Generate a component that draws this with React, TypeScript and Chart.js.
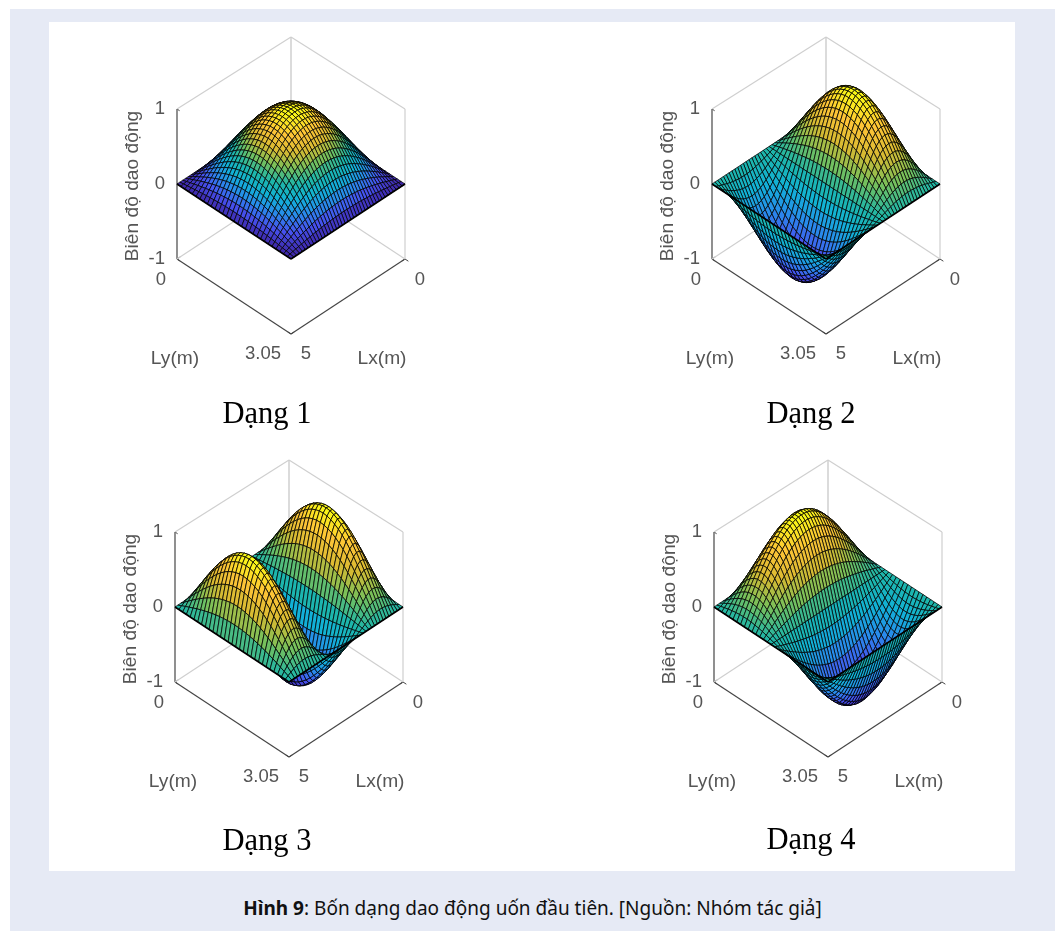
import React, { useEffect, useRef } from "react";
import { Chart, registerables } from "chart.js";

Chart.register(...registerables);

// Lengths of the plate (metres)
const LX = 5;
const LY = 3.05;
// Modal profiles read along the Ly axis (31 stations)
const lyHalf = [0, .105, .208, .309, .407, .5, .588, .669, .743, .809, .866, .914, .951, .978, .995, 1, .995, .978, .951, .914, .866, .809, .743, .669, .588, .5, .407, .309, .208, .105, 0];
const lyFull = [0, .208, .407, .588, .743, .866, .951, .995, .995, .951, .866, .743, .588, .407, .208, 0, -.208, -.407, -.588, -.743, -.866, -.951, -.995, -.995, -.951, -.866, -.743, -.588, -.407, -.208, 0];
// Modal profiles read along the Lx axis (41 stations)
const lxHalf = [0, .078, .156, .233, .309, .383, .454, .522, .588, .649, .707, .76, .809, .853, .891, .924, .951, .972, .988, .997, 1, .997, .988, .972, .951, .924, .891, .853, .809, .76, .707, .649, .588, .522, .454, .383, .309, .233, .156, .078, 0];
const lxFull = [0, .156, .309, .454, .588, .707, .809, .891, .951, .988, 1, .988, .951, .891, .809, .707, .588, .454, .309, .156, 0, -.156, -.309, -.454, -.588, -.707, -.809, -.891, -.951, -.988, -1, -.988, -.951, -.891, -.809, -.707, -.588, -.454, -.309, -.156, 0];
const lxThree = [0, .233, .454, .649, .809, .924, .988, .998, .951, .853, .707, .522, .309, .078, -.156, -.383, -.588, -.76, -.891, -.972, -1, -.972, -.891, -.76, -.588, -.383, -.156, .078, .309, .522, .707, .853, .951, .998, .988, .924, .809, .649, .454, .233, 0];

const zTicks = ["1", "0", "-1"];
const lyTicks = ["0", "3.05"];
const lxTicks = ["0", "5"];
const zTitle = "Biên độ dao động";
const lyTitle = "Ly(m)";
const lxTitle = "Lx(m)";
const captionBold = "Hình 9";
const captionRest = ": Bốn dạng dao động uốn đầu tiên. [Nguồn: Nhóm tác giả]";

const parula = [
  [62, 38, 168], [70, 82, 240], [40, 140, 235], [17, 178, 214], [30, 182, 168],
  [120, 192, 90], [215, 186, 50], [254, 196, 55], [249, 251, 21],
];

const panels = [
  { name: "Dạng 1", ly: lyHalf, lx: lxHalf, cx: 291, dy: 0, nameDx: -24, nameY: 415 },
  { name: "Dạng 2", ly: lyHalf, lx: lxFull, cx: 826, dy: 0, nameDx: -15, nameY: 415 },
  { name: "Dạng 3", ly: lyHalf, lx: lxThree, cx: 289, dy: 423, nameDx: -22, nameY: 419 },
  { name: "Dạng 4", ly: lyFull, lx: lxHalf, cx: 828, dy: 423, nameDx: -17, nameY: 418 },
];

const HALF_W = 114;
const UNIT_H = 75;
const project = (lx: number, ly: number, z: number) => {
  const a = ly / LY;
  const b = lx / LX;
  return { x: HALF_W * (a - b), y: UNIT_H * (1 - a - b) + UNIT_H * z };
};

const colour = (t: number) => {
  const p = Math.max(0, Math.min(1, t)) * (parula.length - 1);
  const i = Math.min(parula.length - 2, Math.floor(p));
  const f = p - i;
  const c = parula[i].map((v, k) => Math.round(v + (parula[i + 1][k] - v) * f));
  return `rgb(${c[0]},${c[1]},${c[2]})`;
};

const line = (pts: number[][], color: string, width: number) => ({
  data: pts.map(([lx, ly, z]) => project(lx, ly, z)),
  borderColor: color,
  borderWidth: width,
  fill: false,
  pointRadius: 0,
});

function buildDatasets(p: typeof panels[number]) {
  const zs: number[][] = p.ly.map((u) => p.lx.map((v) => u * v));
  const all = zs.flat();
  const lo = Math.min(...all);
  const hi = Math.max(...all);
  const quads: any[] = [];
  const ni = p.ly.length - 1;
  const nj = p.lx.length - 1;
  for (let i = 0; i < ni; i++) {
    for (let j = 0; j < nj; j++) {
      const ly0 = (LY * i) / ni, ly1 = (LY * (i + 1)) / ni;
      const lx0 = (LX * j) / nj, lx1 = (LX * (j + 1)) / nj;
      const mean = (zs[i][j] + zs[i + 1][j] + zs[i][j + 1] + zs[i + 1][j + 1]) / 4;
      quads.push({
        data: [
          project(lx0, ly0, zs[i][j]),
          project(lx1, ly0, zs[i][j + 1]),
          project(lx1, ly1, zs[i + 1][j + 1]),
          project(lx0, ly1, zs[i + 1][j]),
          project(lx0, ly0, zs[i][j]),
        ],
        borderColor: "rgba(0,0,0,0.8)",
        borderWidth: 0.95,
        backgroundColor: colour((mean - lo) / (hi - lo)),
        fill: "shape",
        pointRadius: 0,
      });
    }
  }
  const back = "#cfcfcf";
  const dark = "#454545";
  const top = 0.96;
  const box = [
    line([[0, 0, -1], [0, 0, top]], back, 1.5),
    line([[0, 0, top], [LX, 0, 1]], back, 1.2),
    line([[0, 0, top], [0, LY, 1]], back, 1.2),
    line([[0, 0, -1], [LX, 0, -1]], back, 1.2),
    line([[0, 0, -1], [0, LY, -1]], back, 1.2),
    line([[0, LY, -1], [0, LY, 1]], back, 1.2),
    line([[LX, 0, -1], [LX, 0, 1]], dark, 1.2),
    line([[LX, 0, -1], [LX, LY, -1]], dark, 1.2),
    line([[0, LY, -1], [LX, LY, -1]], dark, 1.2),
    line([[LX, 0, 1], [LX, 0.07, 1]], dark, 1),
    line([[LX, 0, 0], [LX, 0.07, 0]], dark, 1),
    line([[LX, 0, -1], [LX, 0.07, -1]], dark, 1),
    line([[LX, 0, -1], [LX - 0.15, 0, -1]], dark, 1),
    line([[LX, LY, -1], [LX - 0.15, LY, -1]], dark, 1),
    line([[LX, LY, -1], [LX, LY - 0.09, -1]], dark, 1),
    line([[0, LY, -1], [0, LY + 0.09, -1]], dark, 1),
    line([[0, LY, -1], [0.15, LY, -1]], dark, 1),
  ];
  const frontEdges = [
    line([[LX, 0, 0], [LX, LY, 0]], "#000", 1.6),
    line([[0, LY, 0], [LX, LY, 0]], "#000", 1.6),
  ];
  return [...frontEdges, ...quads.reverse(), ...box];
}

const labelPlugin = (p: typeof panels[number]) => ({
  id: "axisText",
  afterDraw(chart: any) {
    const { ctx, scales } = chart;
    const put = (text: string, x: number, y: number, font: string, color: string, align: CanvasTextAlign = "center", rot = 0) => {
      ctx.save();
      ctx.translate(scales.x.getPixelForValue(x), scales.y.getPixelForValue(184 - y));
      ctx.rotate(rot);
      ctx.font = font;
      ctx.fillStyle = color;
      ctx.textAlign = align;
      ctx.textBaseline = "middle";
      ctx.fillText(text, 0, 0);
      ctx.restore();
    };
    const f = '18.5px "Liberation Sans"';
    const t = '19.2px "Liberation Sans"';
    const c = "#555555";
    put(zTicks[0], -126, 109, f, c, "right");
    put(zTicks[1], -126, 184, f, c, "right");
    put(zTicks[2], -126, 259, f, c, "right");
    put(lyTicks[0], -130, 280, f, c);
    put(lyTicks[1], -28, 354, f, c);
    put(lxTicks[1], 15, 354, f, c);
    put(lxTicks[0], 129, 280, f, c);
    put(lyTitle, -116, 359, t, c);
    put(lxTitle, 91, 359, t, c);
    put(zTitle, -158, 186, t, c, "center", -Math.PI / 2);
    put(p.name, p.nameDx, p.nameY, '30.5px "Liberation Serif"', "#000");
  },
});

function Panel({ p }: { p: typeof panels[number] }) {
  const ref = useRef<HTMLCanvasElement>(null);
  useEffect(() => {
    const chart = new Chart(ref.current as HTMLCanvasElement, {
      type: "line",
      data: { datasets: buildDatasets(p) as any },
      options: {
        animation: false,
        responsive: false,
        events: [],
        layout: { padding: 0 },
        plugins: { legend: { display: false }, tooltip: { enabled: false } },
        scales: {
          x: { type: "linear", min: -190, max: 190, display: false },
          y: { type: "linear", min: -252, max: 164, display: false },
        },
      },
      plugins: [labelPlugin(p)],
    } as any);
    return () => chart.destroy();
  }, [p]);
  return (
    <canvas
      ref={ref}
      width={380}
      height={416}
      style={{
        position: "absolute",
        left: p.cx - 190,
        top: 20 + p.dy,
        width: 380,
        height: 416,
        filter: "blur(0.7px)",
      }}
    />
  );
}

export default function App() {
  return (
    <div style={{ position: "absolute", left: 0, top: 0, width: 1058, height: 931, background: "#fff", overflow: "hidden" }}>
      <div style={{ position: "absolute", left: 10, top: 9, width: 1045, height: 922, background: "#e6eaf5" }} />
      <div style={{ position: "absolute", left: 49, top: 22, width: 966, height: 849, background: "#fff" }} />
      {panels.map((p) => (
        <Panel key={p.name} p={p} />
      ))}
      <div
        style={{
          position: "absolute",
          left: 10,
          width: 1045,
          top: 898,
          textAlign: "center",
          font: '19px "Noto Sans"',
          lineHeight: "20px",
          color: "#111",
        }}
      >
        <b>{captionBold}</b>
        {captionRest}
      </div>
    </div>
  );
}
